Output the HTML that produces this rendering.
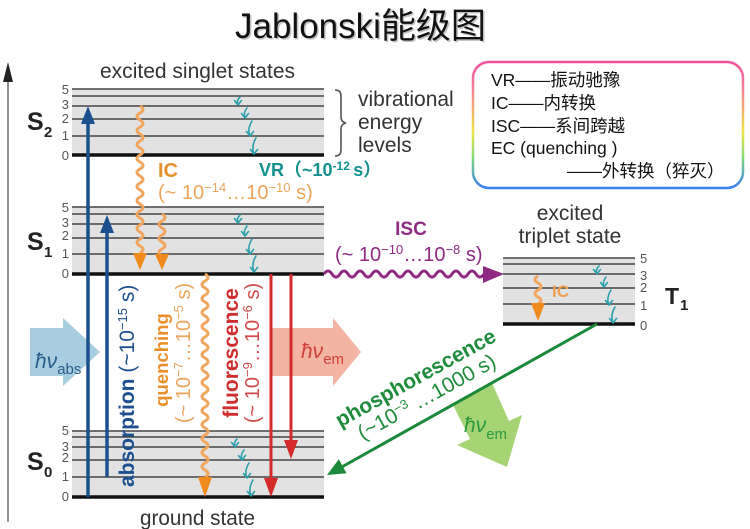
<!DOCTYPE html>
<html><head><meta charset="utf-8"><style>
html,body{margin:0;padding:0;background:#fff;}
svg{display:block;}
text{font-family:"Liberation Sans","Noto Sans CJK SC",sans-serif;}
</style></head><body>
<svg width="750" height="529" viewBox="0 0 750 529" xmlns="http://www.w3.org/2000/svg">
<defs>
<linearGradient id="rb" x1="0" y1="0" x2="0" y2="1">
<stop offset="0" stop-color="#f0509a"/><stop offset="0.18" stop-color="#f57a9a"/>
<stop offset="0.38" stop-color="#f5b070"/><stop offset="0.56" stop-color="#f0e44a"/>
<stop offset="0.76" stop-color="#7edc7a"/><stop offset="1" stop-color="#3a7ff0"/>
</linearGradient>
<g id="vr" fill="none" stroke="#2a9fae" stroke-width="1.6" stroke-linecap="round" stroke-linejoin="round">
<path d="M7,8 Q3,12 5,16 M1.5,11.5 L5,16 L8.5,11.5"/>
<path d="M14,19 Q10,24 12,29 M8.5,24.5 L12,29 L15.5,24.5"/>
<path d="M19,32 Q14,40 17,47 M13.5,42.5 L17,47 L20.5,42.5"/>
<path d="M23,49 Q18,57 21,65 M17.5,60.5 L21,65 L24.5,60.5"/>
</g>
</defs>

<!-- title -->
<text x="236.5" y="39.5" font-size="35" fill="#999" opacity="0.6">Jablonski能级图</text>
<text x="235" y="38" font-size="35" fill="#111">Jablonski能级图</text>

<!-- axis -->
<line x1="8" y1="76" x2="8" y2="522" stroke="#777" stroke-width="1.6"/>
<polygon points="3,82 13,82 8,62" fill="#222"/>

<!-- level blocks -->
<g>
<rect x="72" y="89" width="252" height="66" fill="#e2e2e2"/>
<rect x="72" y="207" width="252" height="67" fill="#e2e2e2"/>
<rect x="72" y="431" width="252" height="66" fill="#e2e2e2"/>
<rect x="503" y="258" width="132" height="66" fill="#e2e2e2"/>
</g>
<g stroke="#444" stroke-width="1.6">
<line x1="72" x2="324" y1="89" y2="89"/><line x1="72" x2="324" y1="96" y2="96"/>
<line x1="72" x2="324" y1="106" y2="106"/><line x1="72" x2="324" y1="119" y2="119"/>
<line x1="72" x2="324" y1="136" y2="136"/>
<line x1="72" x2="324" y1="207" y2="207"/><line x1="72" x2="324" y1="214" y2="214"/>
<line x1="72" x2="324" y1="224" y2="224"/><line x1="72" x2="324" y1="238" y2="238"/>
<line x1="72" x2="324" y1="254" y2="254"/>
<line x1="72" x2="324" y1="431" y2="431"/><line x1="72" x2="324" y1="437" y2="437"/>
<line x1="72" x2="324" y1="447" y2="447"/><line x1="72" x2="324" y1="460" y2="460"/>
<line x1="72" x2="324" y1="477" y2="477"/>
<line x1="503" x2="635" y1="258" y2="258"/><line x1="503" x2="635" y1="264" y2="264"/>
<line x1="503" x2="635" y1="274" y2="274"/><line x1="503" x2="635" y1="288" y2="288"/>
<line x1="503" x2="635" y1="304" y2="304"/>
</g>
<g stroke="#111" stroke-width="3.5">
<line x1="72" x2="324" y1="155" y2="155"/>
<line x1="72" x2="324" y1="274" y2="274"/>
<line x1="72" x2="324" y1="497" y2="497"/>
<line x1="503" x2="635" y1="324" y2="324"/>
</g>

<!-- level numbers -->
<g font-size="13" fill="#555" text-anchor="end">
<text x="69" y="94">5</text><text x="69" y="109">3</text><text x="69" y="123">2</text><text x="69" y="140">1</text><text x="69" y="160">0</text>
<text x="69" y="212">5</text><text x="69" y="227">3</text><text x="69" y="240">2</text><text x="69" y="258">1</text><text x="69" y="278">0</text>
<text x="69" y="435">5</text><text x="69" y="451">3</text><text x="69" y="462">2</text><text x="69" y="481">1</text><text x="69" y="501">0</text>
</g>
<g font-size="13" fill="#555">
<text x="640" y="263">5</text><text x="640" y="280">3</text><text x="640" y="292">2</text><text x="640" y="310">1</text><text x="640" y="330">0</text>
</g>

<!-- state labels -->
<g font-weight="bold" fill="#222">
<text x="27" y="130" font-size="25">S</text><text x="44" y="137" font-size="15">2</text>
<text x="27" y="250" font-size="25">S</text><text x="44" y="257" font-size="15">1</text>
<text x="27" y="470" font-size="25">S</text><text x="44" y="477" font-size="15">0</text>
<text x="665" y="304" font-size="23">T</text><text x="680" y="310" font-size="15">1</text>
</g>

<!-- gray text labels -->
<g fill="#333" font-size="21">
<text x="100" y="78" textLength="195" lengthAdjust="spacingAndGlyphs">excited singlet states</text>
<text x="358" y="106">vibrational</text>
<text x="358" y="129">energy</text>
<text x="358" y="152">levels</text>
<text x="140" y="525" textLength="115" lengthAdjust="spacingAndGlyphs">ground state</text>
<text x="570" y="220" text-anchor="middle">excited</text>
<text x="570" y="243" text-anchor="middle">triplet state</text>
</g>
<path d="M335,90 q6,0 6,6 v21 q0,5 5,6 q-5,1 -5,6 v21 q0,6 -6,6" fill="none" stroke="#555" stroke-width="1.6"/>

<!-- hv arrows (background) -->
<polygon points="30,328 63,328 63,318 100,352 63,386 63,376 30,376" fill="#a8cce0"/>
<polygon points="270,328 333,328 333,318 361,352 333,386 333,376 270,376" fill="#f4b4a4"/>
<polygon points="453,405 470,439 457,445 507,467 522,415 509,421 492,383" fill="#a6d474"/>

<!-- absorption arrows -->
<g stroke="#1c4f8f" stroke-width="3.5">
<line x1="88" y1="497" x2="88" y2="120"/>
<line x1="107" y1="477" x2="107" y2="230"/>
</g>
<polygon points="81,124 95,124 88,106" fill="#1c4f8f"/>
<polygon points="100,233 114,233 107,215" fill="#1c4f8f"/>

<!-- IC / quenching wavy -->
<g fill="none" stroke="#f2a55c" stroke-width="3">
<path d="M140,106 q6,3.5 0,7 t0,7 t0,7 t0,7 t0,7 t0,7 t0,7 t0,7 t0,7 t0,7 t0,7 t0,7 t0,7 t0,7 t0,7 t0,7 t0,7 t0,7 t0,7 t0,7 t0,7"/>
<path d="M162,214 q6,3.5 0,7 t0,7 t0,7 t0,7 t0,7 t0,7"/>
<path d="M205,274 q6,3.5 0,7 t0,7 t0,7 t0,7 t0,7 t0,7 t0,7 t0,7 t0,7 t0,7 t0,7 t0,7 t0,7 t0,7 t0,7 t0,7 t0,7 t0,7 t0,7 t0,7 t0,7 t0,7 t0,7 t0,7 t0,7 t0,7 t0,7 t0,7 t0,7"/>
<path d="M538,276 q-6,3.5 0,7 t0,7 t0,7 t0,7"/>
</g>
<g fill="#f08a1c">
<polygon points="133,253 147,253 140,270"/>
<polygon points="155,254 169,254 162,270"/>
<polygon points="198,477 212,477 205,497"/>
<polygon points="531,303 545,303 538,321"/>
</g>

<!-- fluorescence arrows -->
<g stroke="#d42a2a" stroke-width="3">
<line x1="271" y1="274" x2="271" y2="480"/>
<line x1="291" y1="274" x2="291" y2="442"/>
</g>
<polygon points="264,478 278,478 271,497" fill="#d42a2a"/>
<polygon points="284,440 298,440 291,459" fill="#d42a2a"/>

<!-- ISC wavy -->
<path d="M324,274 q4,-6 8,0 t8,0 t8,0 t8,0 t8,0 t8,0 t8,0 t8,0 t8,0 t8,0 t8,0 t8,0 t8,0 t8,0 t8,0 t8,0 t8,0 t8,0 t8,0 t8,0" fill="none" stroke="#8e2a83" stroke-width="3"/>
<polygon points="483,266 483,283 504,274" fill="#8e2a83"/>

<!-- phosphorescence -->
<line x1="597" y1="324" x2="340" y2="468" stroke="#1a8a3a" stroke-width="3"/>
<polygon points="327,475 346.6,473.2 338.8,459.2" fill="#1a8a3a"/>

<!-- VR arrows -->
<use href="#vr" transform="translate(233,89)"/>
<use href="#vr" transform="translate(233,207)"/>
<use href="#vr" transform="translate(230,431)"/>
<use href="#vr" transform="translate(592,258)"/>

<!-- labels -->
<text x="158" y="177" font-size="20" font-weight="bold" fill="#e8902e">IC</text>
<text x="158" y="199" font-size="20" fill="#eba55a">(~ 10<tspan dy="-7" font-size="13">−14</tspan><tspan dy="7">…10</tspan><tspan dy="-7" font-size="13">−10</tspan><tspan dy="7"> s)</tspan></text>
<text x="259" y="176" font-size="18" font-weight="bold" fill="#12908e">VR（~10<tspan dy="-6" font-size="12">-12 </tspan><tspan dy="6">s）</tspan></text>
<text x="552" y="297" font-size="17" font-weight="bold" fill="#f0a050">IC</text>
<text x="411" y="235" font-size="19" font-weight="bold" fill="#8e2a83" text-anchor="middle">ISC</text>
<text x="335" y="261" font-size="20" fill="#8e2a83">(~ 10<tspan dy="-7" font-size="13">−10</tspan><tspan dy="7">…10</tspan><tspan dy="-7" font-size="13">−8</tspan><tspan dy="7"> s)</tspan></text>

<text transform="translate(134,487) rotate(-90)" font-size="21" fill="#1c4f8f"><tspan font-weight="bold">absorption</tspan> (~10<tspan dy="-7" font-size="13">−15</tspan><tspan dy="7"> s)</tspan></text>
<text transform="translate(168,360) rotate(-90)" font-size="18.5" font-weight="bold" fill="#eb8f2a" text-anchor="middle">quenching</text>
<text transform="translate(190,353) rotate(-90)" font-size="20" fill="#eda35a" text-anchor="middle">(~ 10<tspan dy="-7" font-size="13">−7</tspan><tspan dy="7">…10</tspan><tspan dy="-7" font-size="13">−5</tspan><tspan dy="7"> s)</tspan></text>
<text transform="translate(238,353) rotate(-90)" font-size="21" font-weight="bold" fill="#cf2e2e" text-anchor="middle">fluorescence</text>
<text transform="translate(259,353) rotate(-90)" font-size="20" fill="#d04a4a" text-anchor="middle">(~ 10<tspan dy="-7" font-size="13">−9</tspan><tspan dy="7">…10</tspan><tspan dy="-7" font-size="13">−6</tspan><tspan dy="7"> s)</tspan></text>

<text transform="translate(419,384) rotate(-29)" font-size="21" font-weight="bold" fill="#1e8c3a" text-anchor="middle">phosphorescence</text>
<text transform="translate(430,403) rotate(-29)" font-size="21" fill="#1e8c3a" text-anchor="middle">(~10<tspan dy="-7" font-size="13">−3</tspan><tspan dy="7"> …1000 s)</tspan></text>

<!-- hv labels -->
<text x="35" y="368" font-size="21" font-style="italic" fill="#2b5d8a">ħν<tspan font-size="15" font-style="normal" dy="6">abs</tspan></text>
<text x="301" y="358" font-size="21" font-style="italic" fill="#d0403a">ħν<tspan font-size="15" font-style="normal" dy="6">em</tspan></text>
<text x="464" y="432" font-size="21" font-style="italic" fill="#2a9a40">ħν<tspan font-size="15" font-style="normal" dy="7">em</tspan></text>

<!-- legend -->
<rect x="473" y="62" width="270" height="126" rx="16" ry="16" fill="#fff" stroke="url(#rb)" stroke-width="2.5"/>
<g font-size="17.5" fill="#111">
<text x="491" y="86">VR——振动驰豫</text>
<text x="491" y="109">IC——内转换</text>
<text x="491" y="132">ISC——系间跨越</text>
<text x="491" y="154">EC (quenching )</text>
<text x="567" y="177">——外转换（猝灭）</text>
</g>
</svg>
</body></html>
